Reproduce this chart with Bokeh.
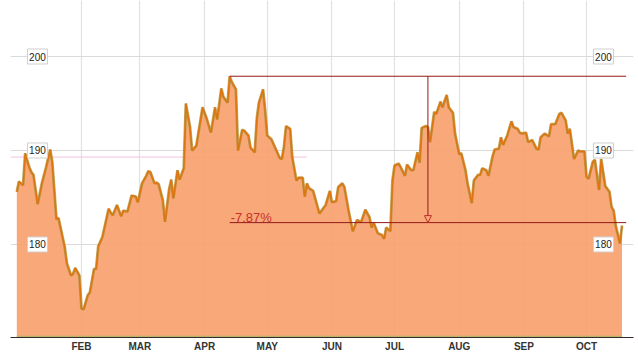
import pandas as pd
from bokeh.plotting import figure
from bokeh.models import Range1d, FixedTicker, Label, Arrow, NormalHead
from bokeh.core.properties import value
from bokeh.embed import file_html
from bokeh.resources import INLINE

# ---------------- data ----------------
start_date = "2015-01-01"
day_offset = [0, 1, 3, 4, 6, 7, 8, 10, 12, 14, 16, 17, 19, 20, 23, 24, 26, 27, 28, 30,
              31, 32, 34, 35, 37, 38, 39, 41, 44, 45, 46, 48, 50, 51, 53, 55, 57, 58, 60, 62,
              63, 64, 66, 67, 68, 70, 71, 73, 74, 75, 77, 78, 80, 81, 83, 84, 86, 89, 91, 93,
              95, 96, 98, 99, 101, 102, 103, 105, 106, 108, 109, 111, 112, 114, 115, 116, 118, 119, 120, 122,
              124, 126, 127, 128, 129, 131, 132, 134, 135, 137, 138, 139, 140, 142, 145, 146, 148, 150, 151, 153,
              154, 156, 157, 159, 161, 163, 165, 167, 169, 170, 171, 173, 175, 176, 177, 179, 180, 181, 183, 184,
              186, 187, 189, 190, 192, 193, 194, 196, 197, 198, 200, 201, 203, 204, 205, 206, 207, 209, 210, 212,
              213, 215, 216, 218, 219, 221, 222, 223, 225, 226, 228, 229, 231, 232, 233, 235, 237, 238, 240, 241,
              242, 244, 245, 247, 249, 250, 251, 253, 255, 256, 258, 260, 261, 263, 264, 265, 267, 269, 270, 272,
              273, 274, 276, 277, 279, 280, 282, 284, 285, 286, 287, 289, 290]
price = [185.6, 186.7, 186.3, 189.7, 188.2, 187.7, 187.4, 184.3, 186.5, 188.2, 190.1, 188.8, 182.7, 182.8, 179.7, 178.0, 176.7, 176.9, 177.5, 176.7,
         173.2, 173.1, 174.6, 174.9, 177.4, 177.4, 179.8, 180.8, 183.8, 183.4, 183.1, 184.2, 183.0, 183.6, 183.5, 185.2, 185.1, 184.5, 186.5, 187.3,
         187.8, 187.7, 186.5, 186.6, 186.4, 184.7, 182.4, 185.9, 186.9, 184.9, 187.9, 186.9, 188.1, 195.0, 192.5, 190.0, 190.5, 194.6, 193.4, 191.9,
         194.6, 193.3, 196.6, 195.7, 195.1, 197.9, 197.3, 196.5, 190.0, 192.2, 192.1, 191.6, 190.3, 189.8, 193.4, 195.1, 196.5, 194.3, 191.6, 191.2,
         190.2, 189.2, 189.1, 190.4, 192.6, 192.3, 189.3, 186.8, 187.1, 187.1, 185.1, 186.5, 186.0, 185.7, 183.3, 183.6, 184.2, 185.7, 184.5, 184.6,
         186.1, 186.5, 186.1, 183.6, 181.4, 182.6, 182.4, 183.7, 182.9, 181.8, 182.3, 181.2, 181.0, 180.6, 181.8, 181.4, 186.8, 188.4, 188.6, 188.2,
         187.3, 188.5, 187.9, 187.9, 189.8, 188.7, 192.4, 192.6, 192.5, 190.9, 194.1, 193.9, 195.2, 194.6, 195.3, 195.9, 194.6, 194.0, 191.8, 189.6,
         189.7, 187.9, 186.5, 184.4, 186.8, 187.4, 187.4, 188.1, 187.9, 187.3, 189.4, 190.1, 190.2, 191.4, 190.6, 191.6, 193.1, 192.5, 192.3, 191.9,
         191.8, 191.9, 190.9, 191.1, 190.2, 190.1, 191.4, 191.8, 191.5, 192.8, 192.8, 193.9, 194.0, 193.2, 191.8, 192.3, 189.1, 190.0, 189.9, 189.9,
         187.2, 187.0, 188.8, 189.0, 185.8, 189.1, 186.2, 185.6, 184.0, 183.6, 182.0, 180.1, 182.0]

month_starts = ["2015-02-01", "2015-03-01", "2015-04-01", "2015-05-01", "2015-06-01",
                "2015-07-01", "2015-08-01", "2015-09-01", "2015-10-01"]
month_labels = ["FEB", "MAR", "APR", "MAY", "JUN", "JUL", "AUG", "SEP", "OCT"]

y_ticks = [180, 190, 200]
y_tick_labels = ["180", "190", "200"]

drop_pct = -7.87
drop_label = "-7.87%"
arrow_date = "2015-07-17"
annot_end_date = "2015-10-20"

# ---------------- build ----------------
t0 = pd.Timestamp(start_date)
dates = [t0 + pd.Timedelta(days=d) for d in day_offset]

def ms(ts):
    return pd.Timestamp(ts).value / 1e6

Y0, Y1 = 170.1, 205.96
p = figure(width=638, height=355, x_axis_type="datetime",
           x_range=Range1d(ms(t0 - pd.Timedelta(days=3.02)), ms(t0 + pd.Timedelta(days=295.5))),
           y_range=Range1d(Y0, Y1),
           output_backend="svg", toolbar_location=None,
           min_border_left=10, min_border_right=5, min_border_top=0, min_border_bottom=18)
p.outline_line_color = None
p.background_fill_color = "white"
p.border_fill_color = "white"

# axes / grid
p.yaxis.visible = False
p.ygrid.ticker = FixedTicker(ticks=y_ticks)
p.ygrid.grid_line_color = "#DADADA"
tick_ms = [ms(m) for m in month_starts]
p.xaxis.ticker = FixedTicker(ticks=tick_ms)
p.xaxis.major_label_overrides = {t: l for t, l in zip(tick_ms, month_labels)}
p.xgrid.ticker = FixedTicker(ticks=tick_ms)
p.xgrid.grid_line_color = "#E2E2E2"
p.xgrid.grid_line_width = 1.2
p.xaxis.major_tick_out = 0
p.xaxis.major_tick_in = 0
p.xaxis.minor_tick_out = 0
p.xaxis.minor_tick_in = 0
p.xaxis.major_label_standoff = 3
p.xaxis.axis_line_color = "#3A2A2A"
p.xaxis.axis_line_width = 1.2
p.xaxis.major_label_text_font = "Liberation Sans"
p.xaxis.major_label_text_font_size = "10px"
p.xaxis.major_label_text_font_style = "bold"
p.xaxis.major_label_text_color = "#333333"

# faint artefact line
p.segment(x0=[ms(t0 - pd.Timedelta(days=3.02))], y0=[189.3], x1=[ms(t0 + pd.Timedelta(days=139))], y1=[189.3],
          line_color="#F5C2DE", line_width=1)

# area + line
p.varea(x=dates, y1=[Y0 - 5] * len(dates), y2=price, fill_color="#F89F6C", fill_alpha=0.9)
p.line(x=[dates[0], dates[-1]], y=[Y0 + 0.12, Y0 + 0.12], line_color="#B7B46A", line_width=1.2)
p.line(x=dates, y=price, line_color="#A8892A", line_width=2.8, line_alpha=0.7)
p.line(x=dates, y=price, line_color="#DD7610", line_width=1.5)

# boxed y labels
for xd in [t0 + pd.Timedelta(days=9.9), t0 + pd.Timedelta(days=281.1)]:
    p.rect(x=[xd] * 3, y=y_ticks, width=20, height=15, width_units="screen", height_units="screen",
           fill_color="white", line_color="#CFCFCF", line_width=1)
    p.text(x=[xd] * 3, y=y_ticks, text=y_tick_labels, text_align="center", text_baseline="middle",
           text_font=value("Liberation Sans"), text_font_size="10px", text_color="#222222")

# drawdown annotation
imax = max(range(len(price)), key=lambda i: price[i])
peak_val = price[imax]
peak_date = dates[imax]
low_val = peak_val * (1 + drop_pct / 100)
annot_col = "#951818"
p.segment(x0=[peak_date, peak_date], y0=[peak_val, low_val],
          x1=[pd.Timestamp(annot_end_date)] * 2, y1=[peak_val, low_val],
          line_color=annot_col, line_width=1)
p.add_layout(Arrow(x_start=ms(arrow_date), y_start=peak_val, x_end=ms(arrow_date), y_end=low_val,
                   line_color=annot_col, line_width=1,
                   end=NormalHead(size=7, fill_color=None, line_color="#C0302A", line_width=1)))
p.add_layout(Label(x=ms(peak_date), y=low_val, text=drop_label, x_offset=1, y_offset=5.5,
                   text_baseline="alphabetic", text_font="Liberation Sans", text_font_size="13px",
                   text_color="#C8302A"))

open("out.html", "w").write(file_html(p, INLINE))
